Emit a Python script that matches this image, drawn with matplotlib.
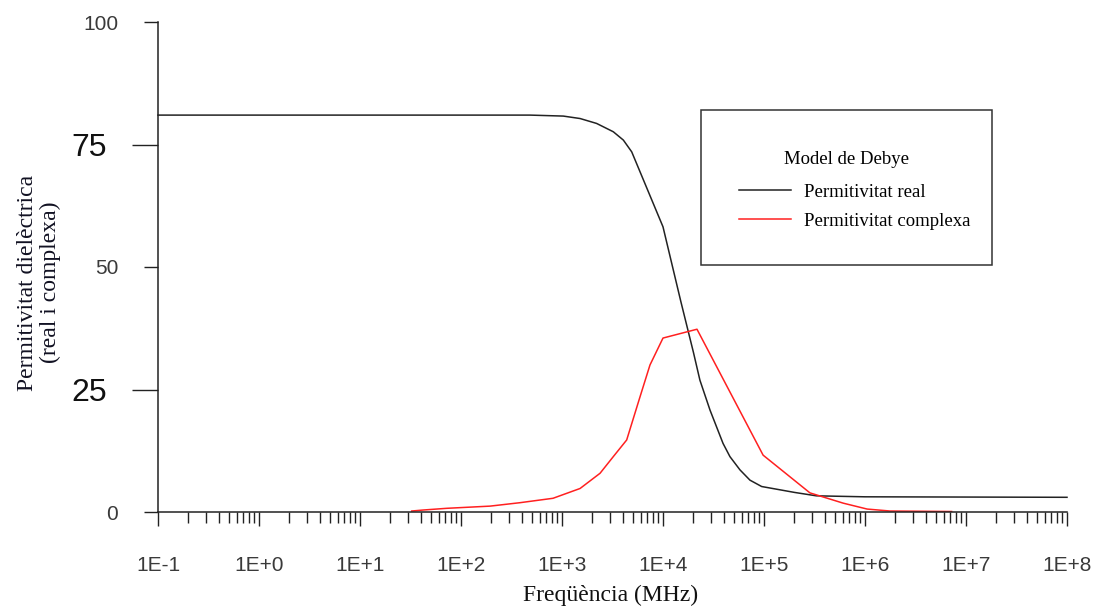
import matplotlib
matplotlib.use("Agg")
import matplotlib.pyplot as plt
from matplotlib.patches import Rectangle
import numpy as np

# ---- data ----
freq_real = [0.1, 1, 10, 100, 482, 1030, 1510, 2200, 3220, 4050, 4900, 10000,
             15000, 20000, 23200, 29200, 39300, 46000, 57800, 72600, 94800,
             200000, 330000, 1e6, 1e7, 1e8]
perm_real = [81.0, 81.0, 81.0, 81.0, 81.0, 80.8, 80.3, 79.3, 77.6, 75.9, 73.5, 58.2,
             43.0, 32.6, 26.9, 20.8, 14.0, 11.3, 8.6, 6.5, 5.2,
             4.0, 3.3, 3.1, 3.05, 3.0]

freq_cplx = [32.5, 42, 72, 194, 384, 815, 1510, 2380, 3220, 4370, 5920, 7430,
             10000, 21700, 98000, 285000, 610000, 1050000, 1770000, 7200000]
perm_cplx = [0.2, 0.4, 0.75, 1.2, 1.9, 2.8, 4.8, 7.9, 11.3, 14.7, 23.5, 30.0,
             35.5, 37.3, 11.6, 3.9, 1.8, 0.6, 0.2, 0.1]

x_tick_vals = [1e-1, 1e0, 1e1, 1e2, 1e3, 1e4, 1e5, 1e6, 1e7, 1e8]
x_tick_labels = ["1E-1", "1E+0", "1E+1", "1E+2", "1E+3", "1E+4", "1E+5", "1E+6", "1E+7", "1E+8"]
y_major_vals = [0, 50, 100]
y_major_labels = ["0", "50", "100"]
y_minor_vals = [25, 75]
y_minor_labels = ["25", "75"]

series_names = ["Permitivitat real", "Permitivitat complexa"]
legend_title = "Model de Debye"
x_label = "Freqüència (MHz)"
y_label = "Permitivitat dielèctrica\n(real i complexa)"

# ---- figure ----
W, H = 1100, 606
fig = plt.figure(figsize=(W/100, H/100), dpi=100)
ax = fig.add_axes([158/W, 94/H, 909/W, 490/H])

ax.plot(freq_real, perm_real, color="#222222", lw=1.1, label=series_names[0], clip_on=False)
ax.plot(freq_cplx, perm_cplx, color="#ff2020", lw=1.1, label=series_names[1])

ax.set_xscale("log")
ax.set_xlim(1e-1, 1e8)
ax.set_ylim(0, 100)

for s in ["top", "right"]:
    ax.spines[s].set_visible(False)
for s in ["left", "bottom"]:
    ax.spines[s].set_color("#222222")
    ax.spines[s].set_linewidth(1.1)

ax.set_xticks(x_tick_vals)
ax.set_xticklabels(x_tick_labels)
ax.xaxis.set_minor_locator(matplotlib.ticker.LogLocator(base=10, subs=np.arange(2, 10), numticks=100))
ax.xaxis.set_minor_formatter(matplotlib.ticker.NullFormatter())
ax.tick_params(axis="x", which="major", direction="out", length=10, width=1.0,
               color="#222222", labelsize=15, labelcolor="#3a3a3a", pad=22)
ax.tick_params(axis="x", which="minor", direction="out", length=8, width=1.0, color="#222222")
for lab in ax.get_xticklabels():
    lab.set_family("Liberation Sans")

ax.set_yticks(y_major_vals)
ax.set_yticklabels(y_major_labels)
ax.set_yticks(y_minor_vals, minor=True)
ax.set_yticklabels(y_minor_labels, minor=True)
ax.tick_params(axis="y", which="major", direction="out", length=10, width=1.0,
               color="#222222", labelsize=15, labelcolor="#3a3a3a", pad=18.7)
ax.tick_params(axis="y", which="minor", direction="out", length=18.7, width=1.0,
               color="#222222", labelsize=23, labelcolor="#111111", pad=18)
for lab in ax.get_yticklabels() + ax.get_yticklabels(minor=True):
    lab.set_family("Liberation Sans")

ax.set_xlabel(x_label, family="Liberation Serif", fontsize=17, color="#111111", va="center")
ax.xaxis.set_label_coords(0.498, -0.170)
ax.set_ylabel(y_label, family="Liberation Serif", fontsize=17, color="#111122",
              va="center", ha="center", linespacing=1.15)
ax.yaxis.set_label_coords(-0.131, 0.468)

# legend box (frame drawn separately)
box_x0, box_x1, box_top, box_bot = 701, 992, 110, 265
fig.add_artist(Rectangle((box_x0/W, 1 - box_bot/H), (box_x1-box_x0)/W, (box_bot-box_top)/H,
                         transform=fig.transFigure, fill=False,
                         edgecolor="#333333", linewidth=1.1, zorder=5))

leg = ax.legend(title=legend_title, loc="upper left",
                bbox_to_anchor=((box_x0-158)/909, (512-(box_top+4))/490, (box_x1-box_x0)/909, 0.0),
                mode="expand",
                prop={"family": "Liberation Serif", "size": 13.5},
                title_fontproperties={"family": "Liberation Serif", "size": 13.5},
                frameon=False, borderpad=2.0, handlelength=2.8,
                handletextpad=0.7, labelspacing=0.62, borderaxespad=0)
leg._legend_box.sep = 11

fig.savefig("out.png", dpi=100)
